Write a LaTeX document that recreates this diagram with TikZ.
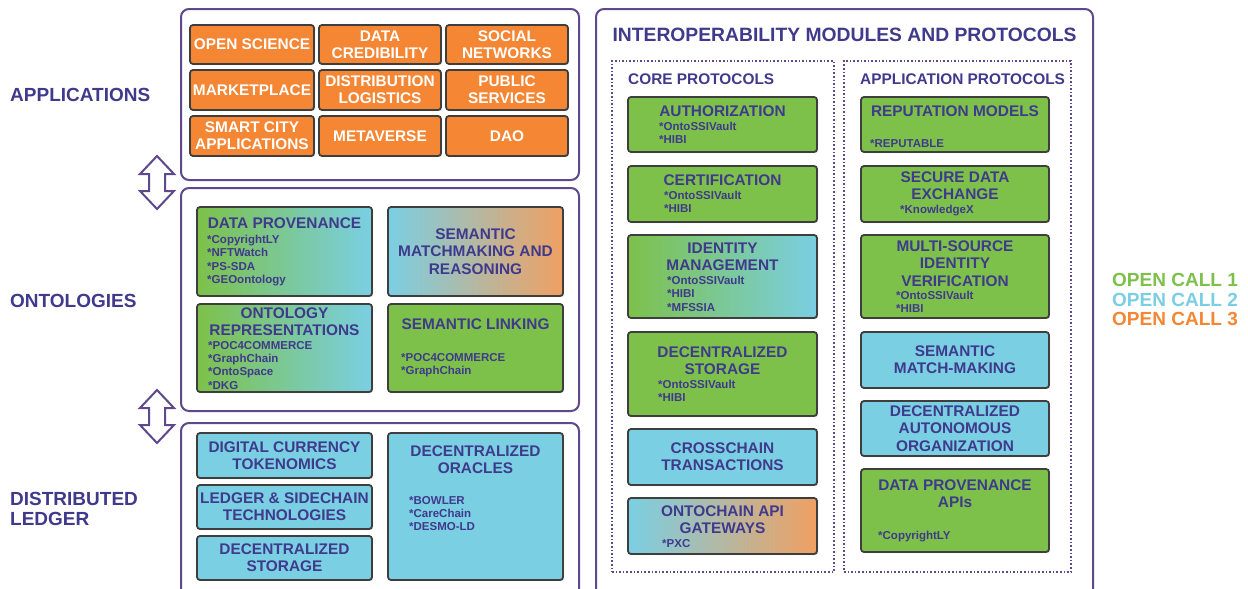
\documentclass[tikz,border=0pt]{standalone}
\usepackage{fontspec}
\setmainfont{Liberation Sans}
\usetikzlibrary{fit,shadows}

\definecolor{ocgreen}{RGB}{125,193,74}
\definecolor{occyan}{RGB}{122,207,227}
\definecolor{ocorange}{RGB}{245,134,52}
\definecolor{ocpeach}{RGB}{240,160,98}
\definecolor{ocnavy}{RGB}{64,58,140}
\definecolor{ocpurple}{RGB}{95,72,140}
\definecolor{cellline}{RGB}{62,62,62}

\newcommand\lblfont{\fontsize{19}{20}\selectfont\bfseries}
\newcommand\ttlfont{\fontsize{15.4}{17.3}\selectfont\bfseries}
\newcommand\itmfont{\fontsize{11.5}{13.3}\selectfont\bfseries}

\tikzset{
  layer/.style={draw=ocpurple, line width=2pt, rounded corners=8pt, fill=white, inner sep=0pt},
  protos/.style={draw=ocpurple, line width=1.6pt, dotted, inner sep=0pt},
  cellbox/.style={draw=cellline, line width=1.8pt, rounded corners=3pt, inner sep=0pt,
    drop shadow={shadow xshift=1.2pt, shadow yshift=-1.2pt, opacity=0.25}},
  grn/.style={cellbox, fill=ocgreen},
  cyn/.style={cellbox, fill=occyan},
  org/.style={cellbox, fill=ocorange},
  grncyn/.style={cellbox, left color=ocgreen, right color=occyan},
  cynorg/.style={cellbox, left color=occyan, right color=ocpeach},
  ttl/.style={font=\ttlfont, text=ocnavy, align=center, inner sep=0pt},
  appttl/.style={ttl, text=white},
  itm/.style={font=\itmfont, text=ocnavy, align=left, inner sep=0pt, anchor=north west},
  lbl/.style={font=\lblfont, text=ocnavy, align=left, inner sep=0pt, anchor=west},
  updown/.style={draw=ocpurple, line width=2pt, fill=white, line join=miter},
}

\begin{document}
\begin{tikzpicture}[x=1pt, y=-1pt]
\useasboundingbox (0,0) rectangle (1248,589);
\fill[white] (0,0) rectangle (1248,589);

% layer names
\node[lbl] (lapps) at (10,95) {APPLICATIONS};
\node[lbl] (lonto) at (10,301) {ONTOLOGIES};
\node[lbl] (ldlt) at (10,509) {DISTRIBUTED\\LEDGER};

% up/down arrows between the layers
\foreach \y in {156,390}
  \draw[updown, shift={(0,\y)}] (157,0) -- (174,18) -- (165,18) -- (165,35) -- (174,35)
    -- (157,53) -- (140,35) -- (149,35) -- (149,18) -- (140,18) -- cycle;

% applications
\node[layer, fit={(181,9) (579,180)}] (apps) {};
\node[org, fit={(190,25) (314,64)}] (osci) {};
\node[appttl] at (osci) {OPEN SCIENCE};
\node[org, fit={(319,25) (441,64)}] (dcred) {};
\node[appttl] at (dcred) {DATA\\CREDIBILITY};
\node[org, fit={(446,25) (568,64)}] (snet) {};
\node[appttl] at (snet) {SOCIAL\\NETWORKS};
\node[org, fit={(190,70) (314,110)}] (mkt) {};
\node[appttl] at (mkt) {MARKETPLACE};
\node[org, fit={(319,70) (441,110)}] (dlog) {};
\node[appttl] at (dlog) {DISTRIBUTION\\LOGISTICS};
\node[org, fit={(446,70) (568,110)}] (psvc) {};
\node[appttl] at (psvc) {PUBLIC\\SERVICES};
\node[org, fit={(190,116) (314,156)}] (scity) {};
\node[appttl] at (scity) {SMART CITY\\APPLICATIONS};
\node[org, fit={(319,116) (441,156)}] (meta) {};
\node[appttl] at (meta) {METAVERSE};
\node[org, fit={(446,116) (568,156)}] (dao) {};
\node[appttl] at (dao) {DAO};

% ontologies
\node[layer, fit={(181,188) (579,411)}] (onto) {};
\node[grncyn, fit={(197,207) (372,296)}] (dprov) {};
\node[ttl] at (284.5,223) {DATA PROVENANCE};
\node[itm] at (207,234.9) {*CopyrightLY\\*NFTWatch\\*PS-SDA\\*GEOontology};
\node[cynorg, fit={(388,207) (563,296)}] (smr) {};
\node[ttl] at (smr) {SEMANTIC\\MATCHMAKING AND\\REASONING};
\node[grncyn, fit={(197,304) (372,392)}] (orep) {};
\node[ttl, anchor=north] at (284.5,307.5) {ONTOLOGY\\REPRESENTATIONS};
\node[itm] at (208,340.9) {*POC4COMMERCE\\*GraphChain\\*OntoSpace\\*DKG};
\node[grn, fit={(388,304) (563,392)}] (slink) {};
\node[ttl] at (475.5,324) {SEMANTIC LINKING};
\node[itm] at (401,352.9) {*POC4COMMERCE\\*GraphChain};

% distributed ledger
\node[layer, fit={(181,423) (579,600)}] (dlt) {};
\node[cyn, fit={(197,433) (372,478)}] (dcur) {};
\node[ttl] at (dcur) {DIGITAL CURRENCY\\TOKENOMICS};
\node[cyn, fit={(197,485) (372,529)}] (lsc) {};
\node[ttl] at (lsc) {LEDGER \& SIDECHAIN\\TECHNOLOGIES};
\node[cyn, fit={(197,536) (372,580)}] (dsto) {};
\node[ttl] at (dsto) {DECENTRALIZED\\STORAGE};
\node[cyn, fit={(388,433) (563,580)}] (orac) {};
\node[ttl, anchor=north] at (475.5,445.5) {DECENTRALIZED\\ORACLES};
\node[itm] at (409,495.9) {*BOWLER\\*CareChain\\*DESMO-LD};

% interoperability modules
\node[layer, fit={(596,9) (1093,600)}] (iop) {};
\node[font=\lblfont, text=ocnavy, inner sep=0pt] (iopttl) at (844.5,35)
  {\fontsize{19.3}{20}\selectfont INTEROPERABILITY MODULES AND PROTOCOLS};
\node[protos, fit={(612,61) (834,572)}] (core) {};
\node[ttl, anchor=west] at (628,79) {CORE PROTOCOLS};
\node[protos, fit={(844,61) (1071,572)}] (appp) {};
\node[ttl, anchor=west] at (860,79) {APPLICATION PROTOCOLS};

% core protocols
\node[grn, fit={(628,97) (817,152)}] (auth) {};
\node[ttl] at (722.5,111) {AUTHORIZATION};
\node[itm] at (659,121.9) {*OntoSSIVault\\*HIBI};
\node[grn, fit={(628,166) (817,222)}] (cert) {};
\node[ttl] at (722.5,180) {CERTIFICATION};
\node[itm] at (664,190.9) {*OntoSSIVault\\*HIBI};
\node[grncyn, fit={(628,235) (817,318)}] (idm) {};
\node[ttl, anchor=north] at (722.5,242.5) {IDENTITY\\MANAGEMENT};
\node[itm] at (667,275.9) {*OntoSSIVault\\*HIBI\\*MFSSIA};
\node[grn, fit={(628,332) (817,416)}] (cstor) {};
\node[ttl, anchor=north] at (722.5,346.5) {DECENTRALIZED\\STORAGE};
\node[itm] at (658,379.9) {*OntoSSIVault\\*HIBI};
\node[cyn, fit={(628,429) (817,485)}] (xchain) {};
\node[ttl] at (xchain) {CROSSCHAIN\\TRANSACTIONS};
\node[cynorg, fit={(628,498) (817,554)}] (gway) {};
\node[ttl, anchor=north] at (722.5,505.5) {ONTOCHAIN API\\GATEWAYS};
\node[itm] at (662,538.9) {*PXC};

% application protocols
\node[grn, fit={(861,97) (1049,152)}] (rep) {};
\node[ttl] at (955,111) {REPUTATION MODELS};
\node[itm] at (870,138.9) {*REPUTABLE};
\node[grn, fit={(861,166) (1049,222)}] (sdx) {};
\node[ttl, anchor=north] at (955,171.5) {SECURE DATA\\EXCHANGE};
\node[itm] at (900,204.9) {*KnowledgeX};
\node[grn, fit={(861,235) (1049,318)}] (msiv) {};
\node[ttl, anchor=north] at (955,240.5) {MULTI-SOURCE\\IDENTITY\\VERIFICATION};
\node[itm] at (896,290.9) {*OntoSSIVault\\*HIBI};
\node[cyn, fit={(861,332) (1049,388)}] (smm) {};
\node[ttl] at (smm) {SEMANTIC\\MATCH-MAKING};
\node[cyn, fit={(861,401) (1049,456)}] (dauto) {};
\node[ttl] at (dauto) {DECENTRALIZED\\AUTONOMOUS\\ORGANIZATION};
\node[grn, fit={(861,469) (1049,552)}] (dpapi) {};
\node[ttl, anchor=north] at (955,479.5) {DATA PROVENANCE\\APIs};
\node[itm] at (878,530.9) {*CopyrightLY};

% open calls
\node[lbl, text=ocgreen] (call1) at (1112,280) {OPEN CALL 1};
\node[lbl, text=occyan] (call2) at (1112,299.5) {OPEN CALL 2};
\node[lbl, text=ocorange] (call3) at (1112,319) {OPEN CALL 3};
\end{tikzpicture}
\end{document}
